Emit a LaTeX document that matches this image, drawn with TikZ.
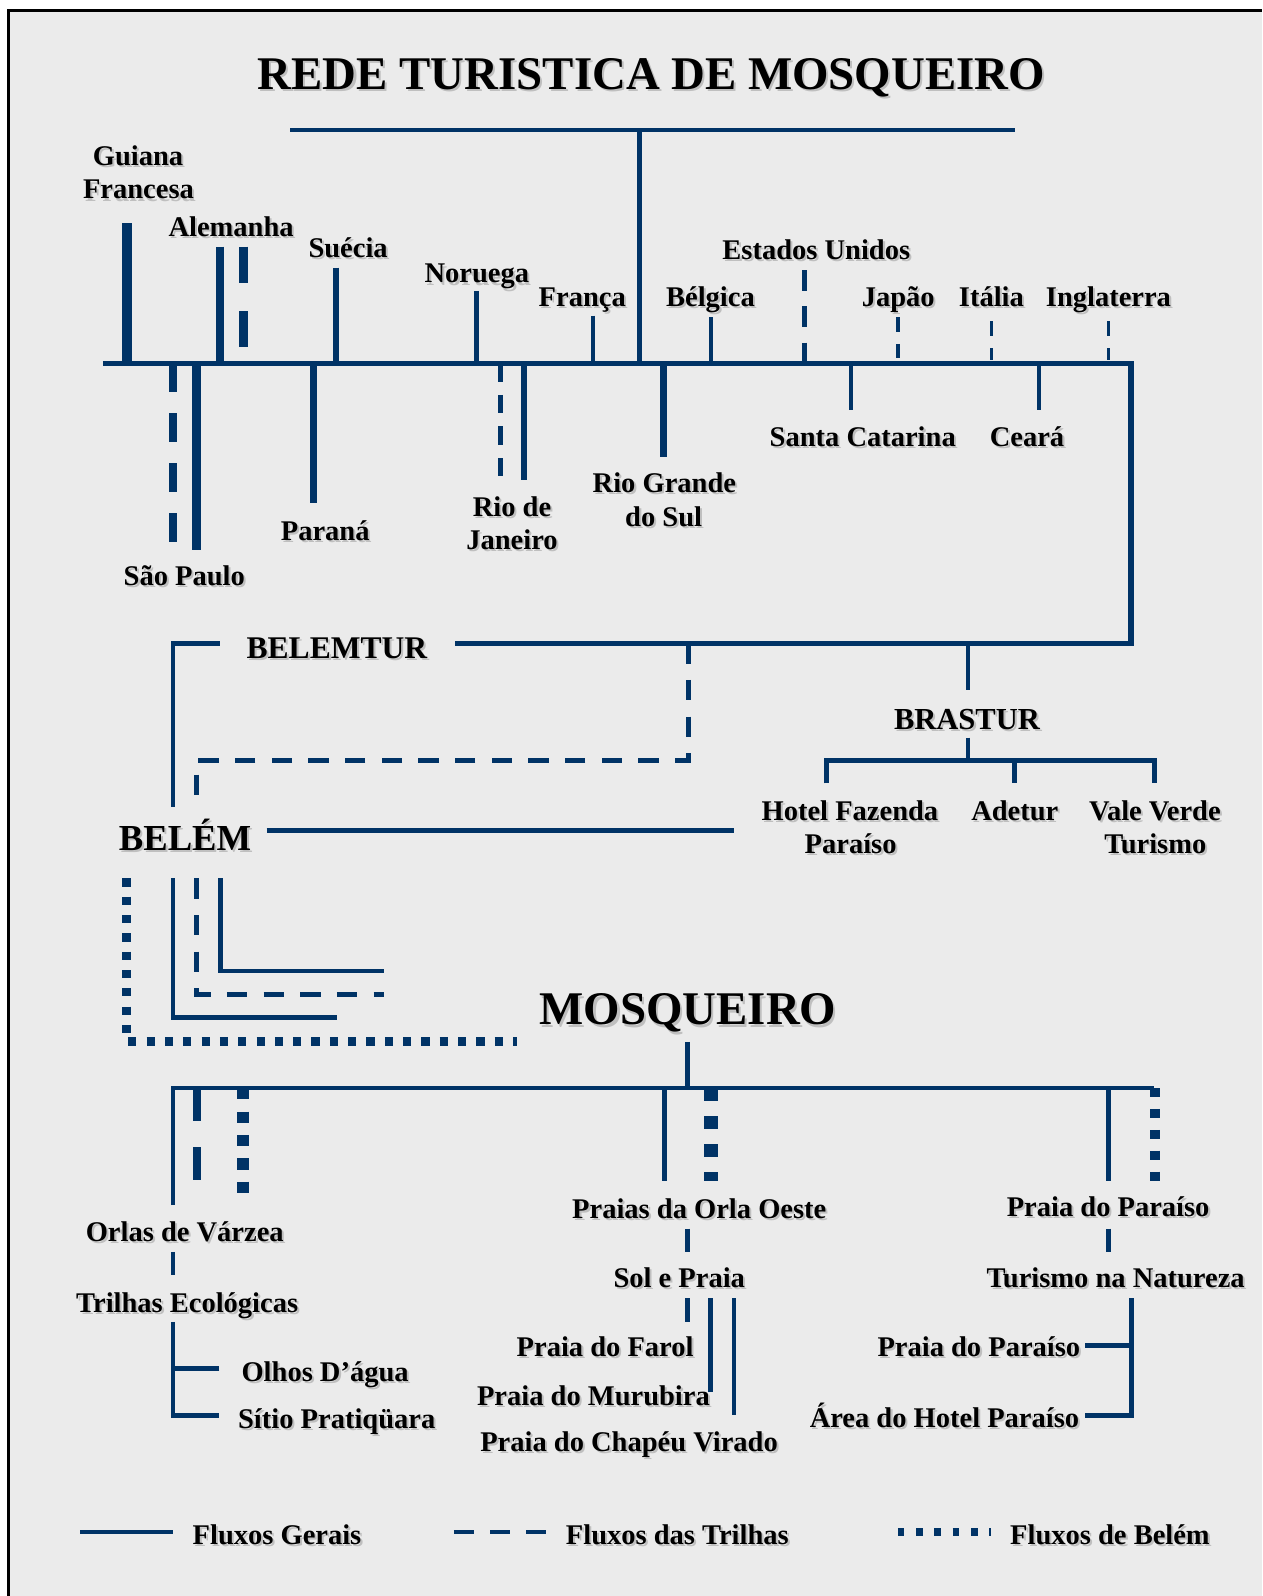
\documentclass[tikz,border=0pt]{standalone}
\usepackage{fontspec}
\setmainfont{Liberation Serif}
\definecolor{navy}{RGB}{0,51,102}
\definecolor{bgc}{RGB}{235,235,235}
\newcommand\shd[1]{\leavevmode\rlap{\kern1pt\raisebox{-1pt}{\textcolor{black!25}{#1}}}#1}
\newcommand\bodyfont{\fontsize{14}{16}\selectfont\bfseries}
\tikzset{
  ln/.style={draw=navy, line width=2.4pt},
  trl/.style={draw=navy, line width=2.4pt, dash pattern=on 10pt off 8pt},
  blm/.style={draw=navy, line width=4.5pt, dash pattern=on 4pt off 5pt},
  lbl/.style={anchor=base, inner sep=0pt, outer sep=0pt, font=\bodyfont},
  lblr/.style={lbl, anchor=base east},
  lbll/.style={lbl, anchor=base west},
}
\begin{document}
\begin{tikzpicture}[x=0.5pt,y=-0.5pt]
\useasboundingbox (0,0) rectangle (1240,1568);
\fill[white] (0,0) rectangle (1240,1568);
\fill[bgc] (8.3,10.5) rectangle (1240,1568);
\draw[black, line width=1.5pt] (8.3,1568) -- (8.3,10.5) -- (1240,10.5);

% ---------- title
\node[lbl, font=\fontsize{23}{26}\selectfont\bfseries] (title) at (640,88) {\shd{REDE TURISTICA DE MOSQUEIRO}};

% ---------- top structure
\draw[ln, line width=2.1pt] (285,128) -- (997,128);
\draw[ln, line width=2.2pt] (628.5,128) -- (628.5,357);
\draw[ln, line width=2.7pt] (101,357) -- (1111,357) -- (1111,632) -- (447,632);

% branches up
\draw[ln, line width=4.75pt] (124.6,219.4) -- (124.6,357);
\draw[ln, line width=3.6pt] (216,242.4) -- (216,357);
\draw[navy, line width=4.3pt, dash pattern=on 17.7pt off 14pt] (239,242.4) -- (239,341);
\draw[ln, line width=3pt] (330,263) -- (330,357);
\draw[ln, line width=2.5pt] (468,285.8) -- (468,357);
\draw[ln, line width=1.9pt] (583,310) -- (583,357);
\draw[ln, line width=2.1pt] (698.6,311.8) -- (698.6,357);
\draw[navy, line width=2.5pt, dash pattern=on 10.1pt off 7.75pt] (790,265.3) -- (790,357);
\draw[navy, line width=1.8pt, dash pattern=on 7pt off 6pt] (882,311.8) -- (882,353);
\draw[navy, line width=1.8pt, dash pattern=on 7.3pt off 6pt] (974,315.4) -- (974,354);
\draw[navy, line width=1.8pt, dash pattern=on 7.3pt off 6pt] (1089,315.4) -- (1089,354);
% branches down
\draw[navy, line width=3.9pt, dash pattern=on 14pt off 10.5pt] (170,357) -- (170,532.2);
\draw[ln, line width=4.4pt] (193.4,357) -- (193.4,540.4);
\draw[ln, line width=3.4pt] (307.6,357) -- (307.6,494.6);
\draw[navy, line width=2.6pt, dash pattern=on 9pt off 6.5pt] (491.4,357) -- (491.4,468.4);
\draw[ln, line width=3.1pt] (515,357) -- (515,471.7);
\draw[ln, line width=3.2pt] (652,357) -- (652,448.7);
\draw[ln, line width=2.1pt] (836,357) -- (836,402.9);
\draw[ln, line width=2.1pt] (1020.5,357) -- (1020.5,402.9);

% top labels
\node[lbl] (guiana1) at (135.6,163) {\shd{Guiana}};
\node[lbl] (guiana2) at (136,195.5) {\shd{Francesa}};
\node[lbl] (alemanha) at (227,232) {\shd{Alemanha}};
\node[lbl] (suecia) at (342,253) {\shd{Suécia}};
\node[lbl] (noruega) at (468.5,278) {\shd{Noruega}};
\node[lbl] (franca) at (572,301.5) {\shd{França}};
\node[lbl] (belgica) at (698,300.7) {\shd{Bélgica}};
\node[lbl] (eua) at (802,254.5) {\shd{Estados Unidos}};
\node[lbl] (japao) at (882.5,301) {\shd{Japão}};
\node[lbl] (italia) at (974,301) {\shd{Itália}};
\node[lbl] (inglaterra) at (1089,301) {\shd{Inglaterra}};
\node[lbl] (saopaulo) at (181,575) {\shd{São Paulo}};
\node[lbl] (parana) at (319.5,530.6) {\shd{Paraná}};
\node[lbl] (rio1) at (503,507) {\shd{Rio de}};
\node[lbl] (rio2) at (503,539.5) {\shd{Janeiro}};
\node[lbl] (rgs1) at (652.7,484) {\shd{Rio Grande}};
\node[lbl] (rgs2) at (652,517) {\shd{do Sul}};
\node[lbl] (sc) at (847.6,439) {\shd{Santa Catarina}};
\node[lbl] (ceara) at (1009,439) {\shd{Ceará}};

% ---------- middle
\node[lbl, font=\fontsize{15.5}{18}\selectfont\bfseries] (belemtur) at (331,647) {\shd{BELEMTUR}};
\draw[ln] (216,632) -- (170,632) -- (170,793);
\draw[trl] (676,632) -- (676,747) -- (193,747) -- (193,793);

\draw[ln] (951,632) -- (951,678);
\node[lbl, font=\fontsize{15}{18}\selectfont\bfseries] (brastur) at (950,716.6) {\shd{BRASTUR}};
\draw[ln] (951,724.6) -- (951,747);
\draw[ln] (812.4,769.7) -- (812.4,747) -- (1134.5,747) -- (1134.5,769.7);
\draw[ln] (996.6,747) -- (996.6,769.7);
\node[lbl] (hotel1) at (835,805.7) {\shd{Hotel Fazenda}};
\node[lbl] (hotel2) at (835.7,838.5) {\shd{Paraíso}};
\node[lbl] (adetur) at (997,805.7) {\shd{Adetur}};
\node[lbl] (vale1) at (1134.6,805.7) {\shd{Vale Verde}};
\node[lbl] (vale2) at (1135,838.5) {\shd{Turismo}};

\node[lbl, font=\fontsize{18}{21}\selectfont\bfseries] (belem) at (181.8,836) {\shd{BELÉM}};
\draw[ln] (262,816) -- (721,816);

\draw[blm] (124,863) -- (124,1023) -- (508,1023);
\draw[ln] (170,863) -- (170,999.6) -- (330.7,999.6);
\draw[trl] (193,863) -- (193,977) -- (377,977);
\draw[ln] (216.5,863) -- (216.5,954) -- (377,954);

\node[lbl, font=\fontsize{23}{26}\selectfont\bfseries] (mosqueiro) at (676,1007) {\shd{MOSQUEIRO}};
\draw[ln] (675.7,1023.6) -- (675.7,1069);

% ---------- lower tree
\draw[ln, line width=2.3pt] (170,1184) -- (170,1069) -- (1134,1069);
\draw[navy, line width=4.1pt, dash pattern=on 16pt off 13pt] (193.3,1069) -- (193.3,1159.5);
\draw[navy, line width=5.9pt, dash pattern=on 5.5pt off 6pt] (239,1069) -- (239,1172);
\draw[ln, line width=2.3pt] (652.5,1069) -- (652.5,1160.2);
\draw[navy, line width=6.7pt, dash pattern=on 6.5pt off 7.25pt] (698.3,1069) -- (698.3,1160.2);
\draw[ln, line width=2.3pt] (1089,1069) -- (1089,1160.2);
\draw[navy, line width=5.25pt, dash pattern=on 4.5pt off 5.75pt] (1134.6,1069) -- (1134.6,1160.2);

\node[lbl] (orlas) at (181.5,1220) {\shd{Orlas de Várzea}};
\draw[ln, line width=2.3pt] (170,1230) -- (170,1253);
\node[lbl] (trilhas) at (183.9,1289) {\shd{Trilhas Ecológicas}};
\draw[ln, line width=2.3pt] (215.5,1344.5) -- (170,1344.5);
\draw[ln, line width=2.3pt] (170,1298.7) -- (170,1390.4) -- (215.5,1390.4);
\node[lbl] (olhos) at (319.4,1357.6) {\shd{Olhos D’água}};
\node[lbl] (sitio) at (330.8,1403.5) {\shd{Sítio Pratiqüara}};

\node[lbl] (orla) at (687,1197) {\shd{Praias da Orla Oeste}};
\draw[ln, line width=2.3pt] (675.7,1207) -- (675.7,1230);
\node[lbl] (sol) at (667.3,1265.3) {\shd{Sol e Praia}};
\draw[ln, line width=2.3pt] (675.7,1275.7) -- (675.7,1298.7);
\draw[ln, line width=2.3pt] (698.3,1275.7) -- (698.3,1367.5);
\draw[ln, line width=2.3pt] (721.2,1275.7) -- (721.2,1390.4);
\node[lbl] (farol) at (594.5,1333) {\shd{Praia do Farol}};
\node[lbl] (murubira) at (583,1380.6) {\shd{Praia do Murubira}};
\node[lbl] (chapeu) at (618,1426.4) {\shd{Praia do Chapéu Virado}};

\node[lbl] (paraiso1) at (1088.7,1195.5) {\shd{Praia do Paraíso}};
\draw[ln, line width=2.3pt] (1089,1207) -- (1089,1230);
\node[lbl] (natureza) at (1096,1265.3) {\shd{Turismo na Natureza}};
\draw[ln, line width=2.3pt] (1066,1321.6) -- (1111.3,1321.6);
\draw[ln, line width=2.3pt] (1111.3,1275.7) -- (1111.3,1390.4) -- (1066,1390.4);
\node[lblr] (paraiso2) at (1061.2,1333) {\shd{Praia do Paraíso}};
\node[lblr] (hotelp) at (1060.2,1402) {\shd{Área do Hotel Paraíso}};

% ---------- legend
\draw[ln, line width=2.35pt] (78.6,1505) -- (170.3,1505);
\node[lbll] (leg1) at (189.3,1517.2) {\shd{Fluxos Gerais}};
\draw[navy, line width=2.3pt, dash pattern=on 10pt off 7.75pt] (446,1505) -- (536.5,1505);
\node[lbll] (leg2) at (556,1517.2) {\shd{Fluxos das Trilhas}};
\draw[navy, line width=4.25pt, dash pattern=on 3.3pt off 5.7pt] (882,1505) -- (973.5,1505);
\node[lbll] (leg3) at (992.5,1517.2) {\shd{Fluxos de Belém}};
\end{tikzpicture}
\end{document}
